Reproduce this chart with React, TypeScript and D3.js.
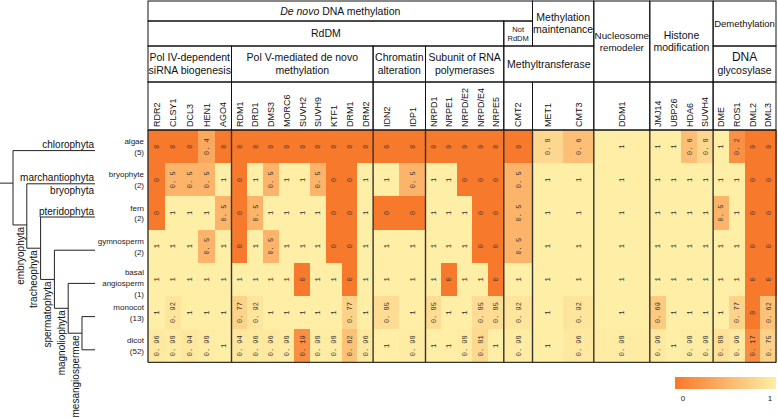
import React from "react";
import * as d3 from "d3";

// ---------------- DATA ----------------
const rowLabels: string[][] = [
  ["algae", "(5)"],
  ["bryophyte", "(2)"],
  ["fern", "(2)"],
  ["gymnosperm", "(2)"],
  ["basal", "angiosperm", "(1)"],
  ["monocot", "(13)"],
  ["dicot", "(52)"],
];

const groupGenes: string[][] = [
  ["RDR2", "CLSY1", "DCL3", "HEN1", "AGO4"],
  ["RDM1", "DRD1", "DMS3", "MORC6", "SUVH2", "SUVH9", "KTF1", "DRM1", "DRM2"],
  ["IDN2", "IDP1"],
  ["NRPD1", "NRPE1", "NRPD/E2", "NRPD/E4", "NRPE5"],
  ["CMT2"],
  ["MET1", "CMT3"],
  ["DDM1"],
  ["JMJ14", "UBP26", "HDA6", "SUVH4"],
  ["DME", "ROS1", "DML2", "DML3"],
];

// header cells: text, group span, header-row span
const headerCells = [
  { text: "De novo DNA methylation", g: [0, 4], r: [0, 0], italicPrefix: "De novo" },
  { text: "RdDM", g: [0, 3], r: [1, 1] },
  { text: "Not\nRdDM", g: [4, 4], r: [1, 1], fs: 7.5 },
  { text: "Methylation\nmaintenance", g: [5, 5], r: [0, 1] },
  { text: "Nucleosome\nremodeler", g: [6, 6], r: [0, 2], fs: 9.8 },
  { text: "Histone\nmodification", g: [7, 7], r: [0, 2] },
  { text: "Demethylation", g: [8, 8], r: [0, 1], fs: 9.5 },
  { text: "Pol IV-dependent\nsiRNA biogenesis", g: [0, 0], r: [2, 2] },
  { text: "Pol V-mediated de novo\nmethylation", g: [1, 1], r: [2, 2] },
  { text: "Chromatin\nalteration", g: [2, 2], r: [2, 2] },
  { text: "Subunit of RNA\npolymerases", g: [3, 3], r: [2, 2] },
  { text: "Methyltransferase", g: [4, 5], r: [2, 2] },
  { text: "DNA\nglycosylase", g: [8, 8], r: [2, 2], firstBig: true },
];

const values: number[][] = [
  [0, 0, 0, 0.4, 0, 0, 0, 0, 0, 0, 0, 0, 0, 0, 0, 0, 0, 0, 0, 0, 0, 0, 0.8, 0.6, 1, 1, 1, 0.6, 0.8, 1, 0.2, 0, 0],
  [0, 0.5, 0.5, 0.5, 1, 0, 1, 0.5, 1, 1, 0.5, 0, 0, 1, 1, 0.5, 1, 1, 0, 0, 0, 0.5, 1, 1, 1, 1, 1, 1, 1, 1, 1, 0, 0],
  [0, 1, 1, 1, 0.5, 0, 0.5, 1, 1, 1, 1, 0, 0, 1, 0, 0, 1, 1, 1, 0, 0, 0.5, 1, 1, 1, 1, 1, 1, 1, 0.5, 1, 0, 0],
  [1, 1, 1, 0.5, 1, 0, 1, 0.5, 1, 1, 1, 0, 0, 1, 1, 1, 1, 1, 1, 0, 0, 0.5, 1, 1, 1, 1, 1, 1, 1, 1, 1, 0, 0],
  [1, 1, 1, 1, 1, 1, 1, 1, 1, 0, 1, 1, 0, 1, 1, 1, 1, 0, 1, 1, 0, 1, 1, 1, 1, 1, 1, 1, 1, 1, 1, 0, 0],
  [1, 0.92, 1, 1, 1, 0.77, 0.92, 1, 1, 1, 1, 1, 0.77, 1, 0.85, 1, 0.85, 1, 1, 0.85, 0.85, 0.92, 1, 0.92, 1, 0.69, 1, 1, 1, 1, 0.77, 0, 0.62],
  [0.96, 0.98, 0.94, 0.98, 1, 0.94, 0.96, 0.96, 0.98, 0.19, 0.98, 0.98, 0.62, 0.96, 1, 0.98, 1, 1, 0.98, 0.81, 1, 0.98, 1, 0.96, 0.98, 0.96, 1, 0.98, 0.98, 0.88, 0.96, 0.17, 0.75],
];

// tree
const leafLabels: { above?: string; below?: string }[] = [
  { above: "chlorophyta" },
  { above: "marchantiophyta", below: "bryophyta" },
  { above: "pteridophyta" },
  {},
  {},
  {},
  {},
];
const cladeNames = ["", "embryophyta", "tracheophyta", "spermatophyta", "magnoliophyta", "mesangiospermae"];
const cladePos = [0.98, 2.24, 2.94, 3.88, 4.75, 5.5]; // in leaf-index units

const legendTicks = [0, 1];

// ---------------- LAYOUT ----------------
const groupWidths = [83.5, 141.6, 52.4, 78.3, 28.7, 61.3, 56, 63.3, 62.9];
const LEFT = 148;
const headerY = [1, 21, 46, 82, 130];
const TOP = 130;
const ROWH = 33.2;
const LOW = "#F7792C";
const HIGH = "#FFEEA6";
const FONT = "'Liberation Sans', Arial, sans-serif";

function fmt(v: number) {
  if (v === 0) return "0";
  if (v === 1) return "1";
  return String(v).replace(".", ". ");
}

export default function App() {
  const color = d3.scaleLinear<string>().domain([0, 1]).range([LOW, HIGH]).interpolate(d3.interpolateRgb);

  // group boundaries
  const gx: number[] = [LEFT];
  groupWidths.forEach((w, i) => gx.push(gx[i] + w));

  // columns
  const cols: { gene: string; x: number; w: number; g: number }[] = [];
  groupGenes.forEach((genes, g) => {
    const w = groupWidths[g] / genes.length;
    genes.forEach((gene, j) => cols.push({ gene, x: gx[g] + j * w, w, g }));
  });

  const y = d3.scaleBand<number>().domain(d3.range(rowLabels.length)).range([TOP, TOP + ROWH * rowLabels.length]);
  const bottom = TOP + ROWH * rowLabels.length;
  const right = gx[gx.length - 1];

  // tree scales
  const leafY = d3.scaleLinear().domain([0, 1]).range([TOP + ROWH / 2 + 4, TOP + ROWH * 1.5 + 4]);
  const depthX = d3.scaleLinear().domain([0, 5]).range([13, 82]);
  const leafEnd = 95;

  const treeLines: { x1: number; y1: number; x2: number; y2: number }[] = [];
  treeLines.push({ x1: 0, y1: leafY(cladePos[0]), x2: depthX(0), y2: leafY(cladePos[0]) });
  for (let k = 0; k < cladePos.length; k++) {
    const xk = depthX(k);
    const yLeaf = leafY(k);
    const last = k === cladePos.length - 1;
    const yOther = last ? leafY(k + 1) : leafY(cladePos[k + 1]);
    treeLines.push({ x1: xk, y1: yLeaf, x2: xk, y2: yOther });
    treeLines.push({ x1: xk, y1: yLeaf, x2: leafEnd, y2: yLeaf });
    if (last) treeLines.push({ x1: xk, y1: yOther, x2: leafEnd, y2: yOther });
    else treeLines.push({ x1: xk, y1: yOther, x2: depthX(k + 1), y2: yOther });
  }

  const renderHeaderText = (c: any, i: number) => {
    const x0 = gx[c.g[0]], x1 = gx[c.g[1] + 1];
    const y0 = headerY[c.r[0]], y1 = headerY[c.r[1] + 1];
    const cx = (x0 + x1) / 2, cy = (y0 + y1) / 2;
    const fs = c.fs ?? 10.5;
    const lines = c.text.split("\n");
    const lh = fs * 1.2;
    const startY = cy - ((lines.length - 1) * lh) / 2 + fs * 0.35;
    return lines.map((ln: string, j: number) => {
      let content: any = ln;
      if (c.italicPrefix && ln.startsWith(c.italicPrefix)) {
        content = [
          <tspan key="a" fontStyle="italic">{c.italicPrefix}</tspan>,
          <tspan key="b">{ln.slice(c.italicPrefix.length)}</tspan>,
        ];
      }
      const size = c.firstBig && j === 0 ? fs + 1.5 : fs;
      return (
        <text key={`h${i}-${j}`} x={cx} y={startY + j * lh} textAnchor="middle" fontSize={size} fontFamily={FONT} fill="#111">
          {content}
        </text>
      );
    });
  };

  const legX0 = 675, legX1 = 776, legY = 377, legH = 12;
  const legScale = d3.scaleLinear().domain([0, 1]).range([683, 770]);

  return (
    <div style={{ position: "absolute", left: 0, top: 0 }}>
      <svg width={778} height={418} style={{ display: "block", background: "#fff" }}>
        <defs>
          <linearGradient id="leg" x1="0" x2="1" y1="0" y2="0">
            <stop offset="0%" stopColor={color(0)} />
            <stop offset="100%" stopColor={color(1)} />
          </linearGradient>
        </defs>

        {/* heatmap cells */}
        <g shapeRendering="crispEdges">
          {values.map((row, r) =>
            row.map((v, c) => (
              <rect key={`c${r}-${c}`} x={cols[c].x} y={y(r)} width={cols[c].w + 0.6} height={y.bandwidth() + 0.6} fill={color(v)} />
            ))
          )}
        </g>

        {/* cell values */}
        {values.map((row, r) =>
          row.map((v, c) => {
            const cx = cols[c].x + cols[c].w / 2 + 2.4;
            const cy = (y(r) as number) + y.bandwidth() / 2;
            return (
              <text key={`t${r}-${c}`} transform={`translate(${cx},${cy}) rotate(-90)`} textAnchor="middle" fontSize={7} fontFamily="'Liberation Mono', 'DejaVu Sans Mono', monospace" fill="#333">
                {fmt(v)}
              </text>
            );
          })
        )}

        {/* header boxes */}
        {headerCells.map((c, i) => (
          <rect key={`hb${i}`} x={gx[c.g[0]]} y={headerY[c.r[0]]} width={gx[c.g[1] + 1] - gx[c.g[0]]} height={headerY[c.r[1] + 1] - headerY[c.r[0]]} fill="none" stroke="#111" strokeWidth={1} />
        ))}
        {groupGenes.map((_, g) => (
          <rect key={`gb${g}`} x={gx[g]} y={headerY[3]} width={groupWidths[g]} height={headerY[4] - headerY[3]} fill="none" stroke="#111" strokeWidth={1} />
        ))}
        {headerCells.map(renderHeaderText)}

        {/* gene labels */}
        {cols.map((c, i) => (
          <text key={`g${i}`} transform={`translate(${c.x + c.w / 2 + 3.3},${TOP - 3}) rotate(-90)`} textAnchor="start" fontSize={9} fontFamily={FONT} fill="#111">
            {c.gene}
          </text>
        ))}

        {/* group separators in heatmap */}
        {gx.map((x, i) => (
          <line key={`sep${i}`} x1={x} x2={x} y1={TOP} y2={bottom} stroke="#333" strokeWidth={1.4} />
        ))}
        <line x1={LEFT} x2={right} y1={bottom} y2={bottom} stroke="#333" strokeWidth={1.4} />
        <line x1={LEFT} x2={right} y1={TOP} y2={TOP} stroke="#111" strokeWidth={1} />

        {/* row labels */}
        {rowLabels.map((lines, r) => {
          const cy = (y(r) as number) + y.bandwidth() / 2;
          const lh = 10.8;
          const start = cy - ((lines.length - 1) * lh) / 2 + 3 + (lines.length > 2 ? 3.5 : 0);
          return lines.map((ln, j) => (
            <text key={`r${r}-${j}`} x={144} y={start + j * lh} textAnchor="end" fontSize={8} fontFamily={FONT} fill="#222">
              {ln}
            </text>
          ));
        })}

        {/* tree */}
        {treeLines.map((l, i) => (
          <line key={`tl${i}`} x1={l.x1} y1={l.y1} x2={l.x2} y2={l.y2} stroke="#222" strokeWidth={1} />
        ))}
        {leafLabels.map((lab, i) => (
          <g key={`ll${i}`}>
            {lab.above && (
              <text x={94} y={leafY(i) - 2.5} textAnchor="end" fontSize={10} fontFamily={FONT} fill="#111">{lab.above}</text>
            )}
            {lab.below && (
              <text x={94} y={leafY(i) + 10} textAnchor="end" fontSize={10} fontFamily={FONT} fill="#111">{lab.below}</text>
            )}
          </g>
        ))}
        {cladeNames.map((name, k) =>
          k === 0 ? null : (
            <text key={`cn${k}`} transform={`translate(${(depthX(k - 1) + depthX(k)) / 2 + 3.6},${leafY(cladePos[k]) + 2}) rotate(-90)`} textAnchor="end" fontSize={10} fontFamily={FONT} fill="#111">
              {name}
            </text>
          )
        )}

        {/* legend */}
        <rect x={legX0} y={legY} width={legX1 - legX0} height={legH} fill="url(#leg)" />
        {legendTicks.map((t) => (
          <text key={`lt${t}`} x={legScale(t)} y={401} textAnchor="middle" fontSize={8} fontFamily={FONT} fill="#222">
            {t}
          </text>
        ))}
      </svg>
    </div>
  );
}
